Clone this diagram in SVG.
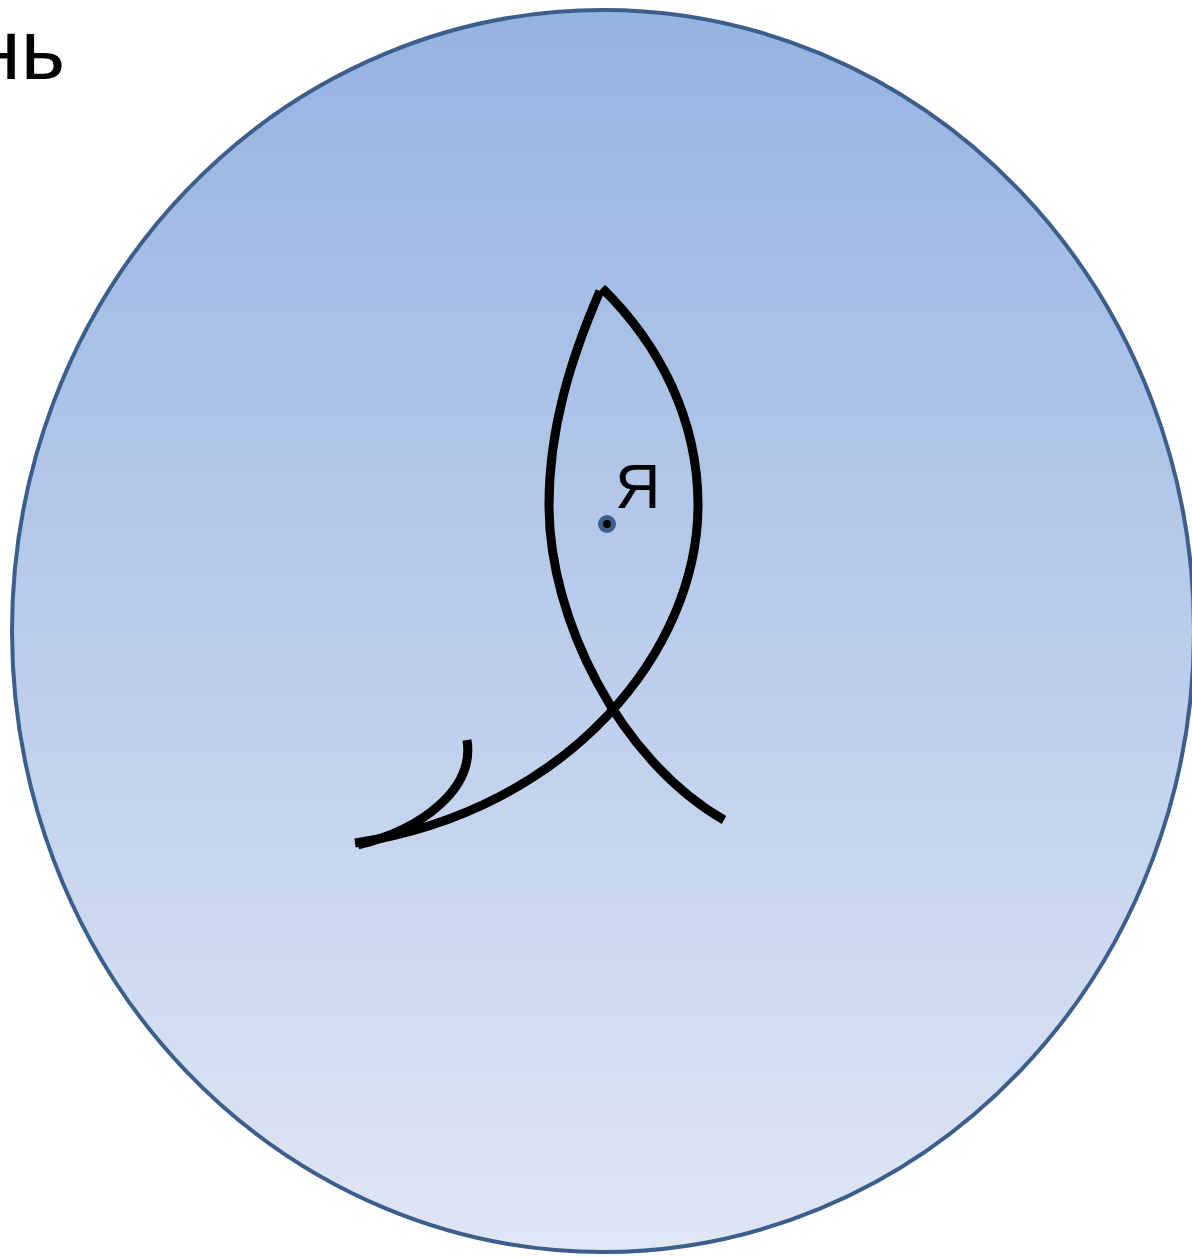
<svg xmlns="http://www.w3.org/2000/svg" width="1192" height="1257" viewBox="0 0 1192 1257">
<defs>
<linearGradient id="g" x1="0" y1="0" x2="0" y2="1">
<stop offset="0" stop-color="#95b3e1"/>
<stop offset="1" stop-color="#dfe6f5"/>
</linearGradient>
<style>
.c{fill:none;stroke:#000;stroke-width:9}
.t{font-family:"Liberation Sans",Arial,sans-serif;fill:#000}
</style>
</defs>
<rect width="1192" height="1257" fill="#fff"/>
<g id="circle">
<ellipse cx="603" cy="631" rx="591" ry="621" fill="url(#g)" stroke="#3b5e8c" stroke-width="4"/>
</g>
<g id="label-top">
<text class="t" x="65" y="79" font-size="85" text-anchor="end">нь</text>
</g>
<g id="connectors">
<path class="c" d="M600,291 C570,360 549,430 549,505 C549,620 620,760 724,820"/>
<path class="c" d="M602,288 C660,345 698,420 698,505 C698,650 570,810 355,843"/>
<path class="c" d="M467,740 C475,790 420,830 358,845"/>
</g>
<g id="me">
<circle cx="607" cy="524" r="9" fill="#3b5e8c"/>
<circle cx="607" cy="524" r="4" fill="#000"/>
<text class="t" x="615" y="508" font-size="63">Я</text>
</g>
</svg>
